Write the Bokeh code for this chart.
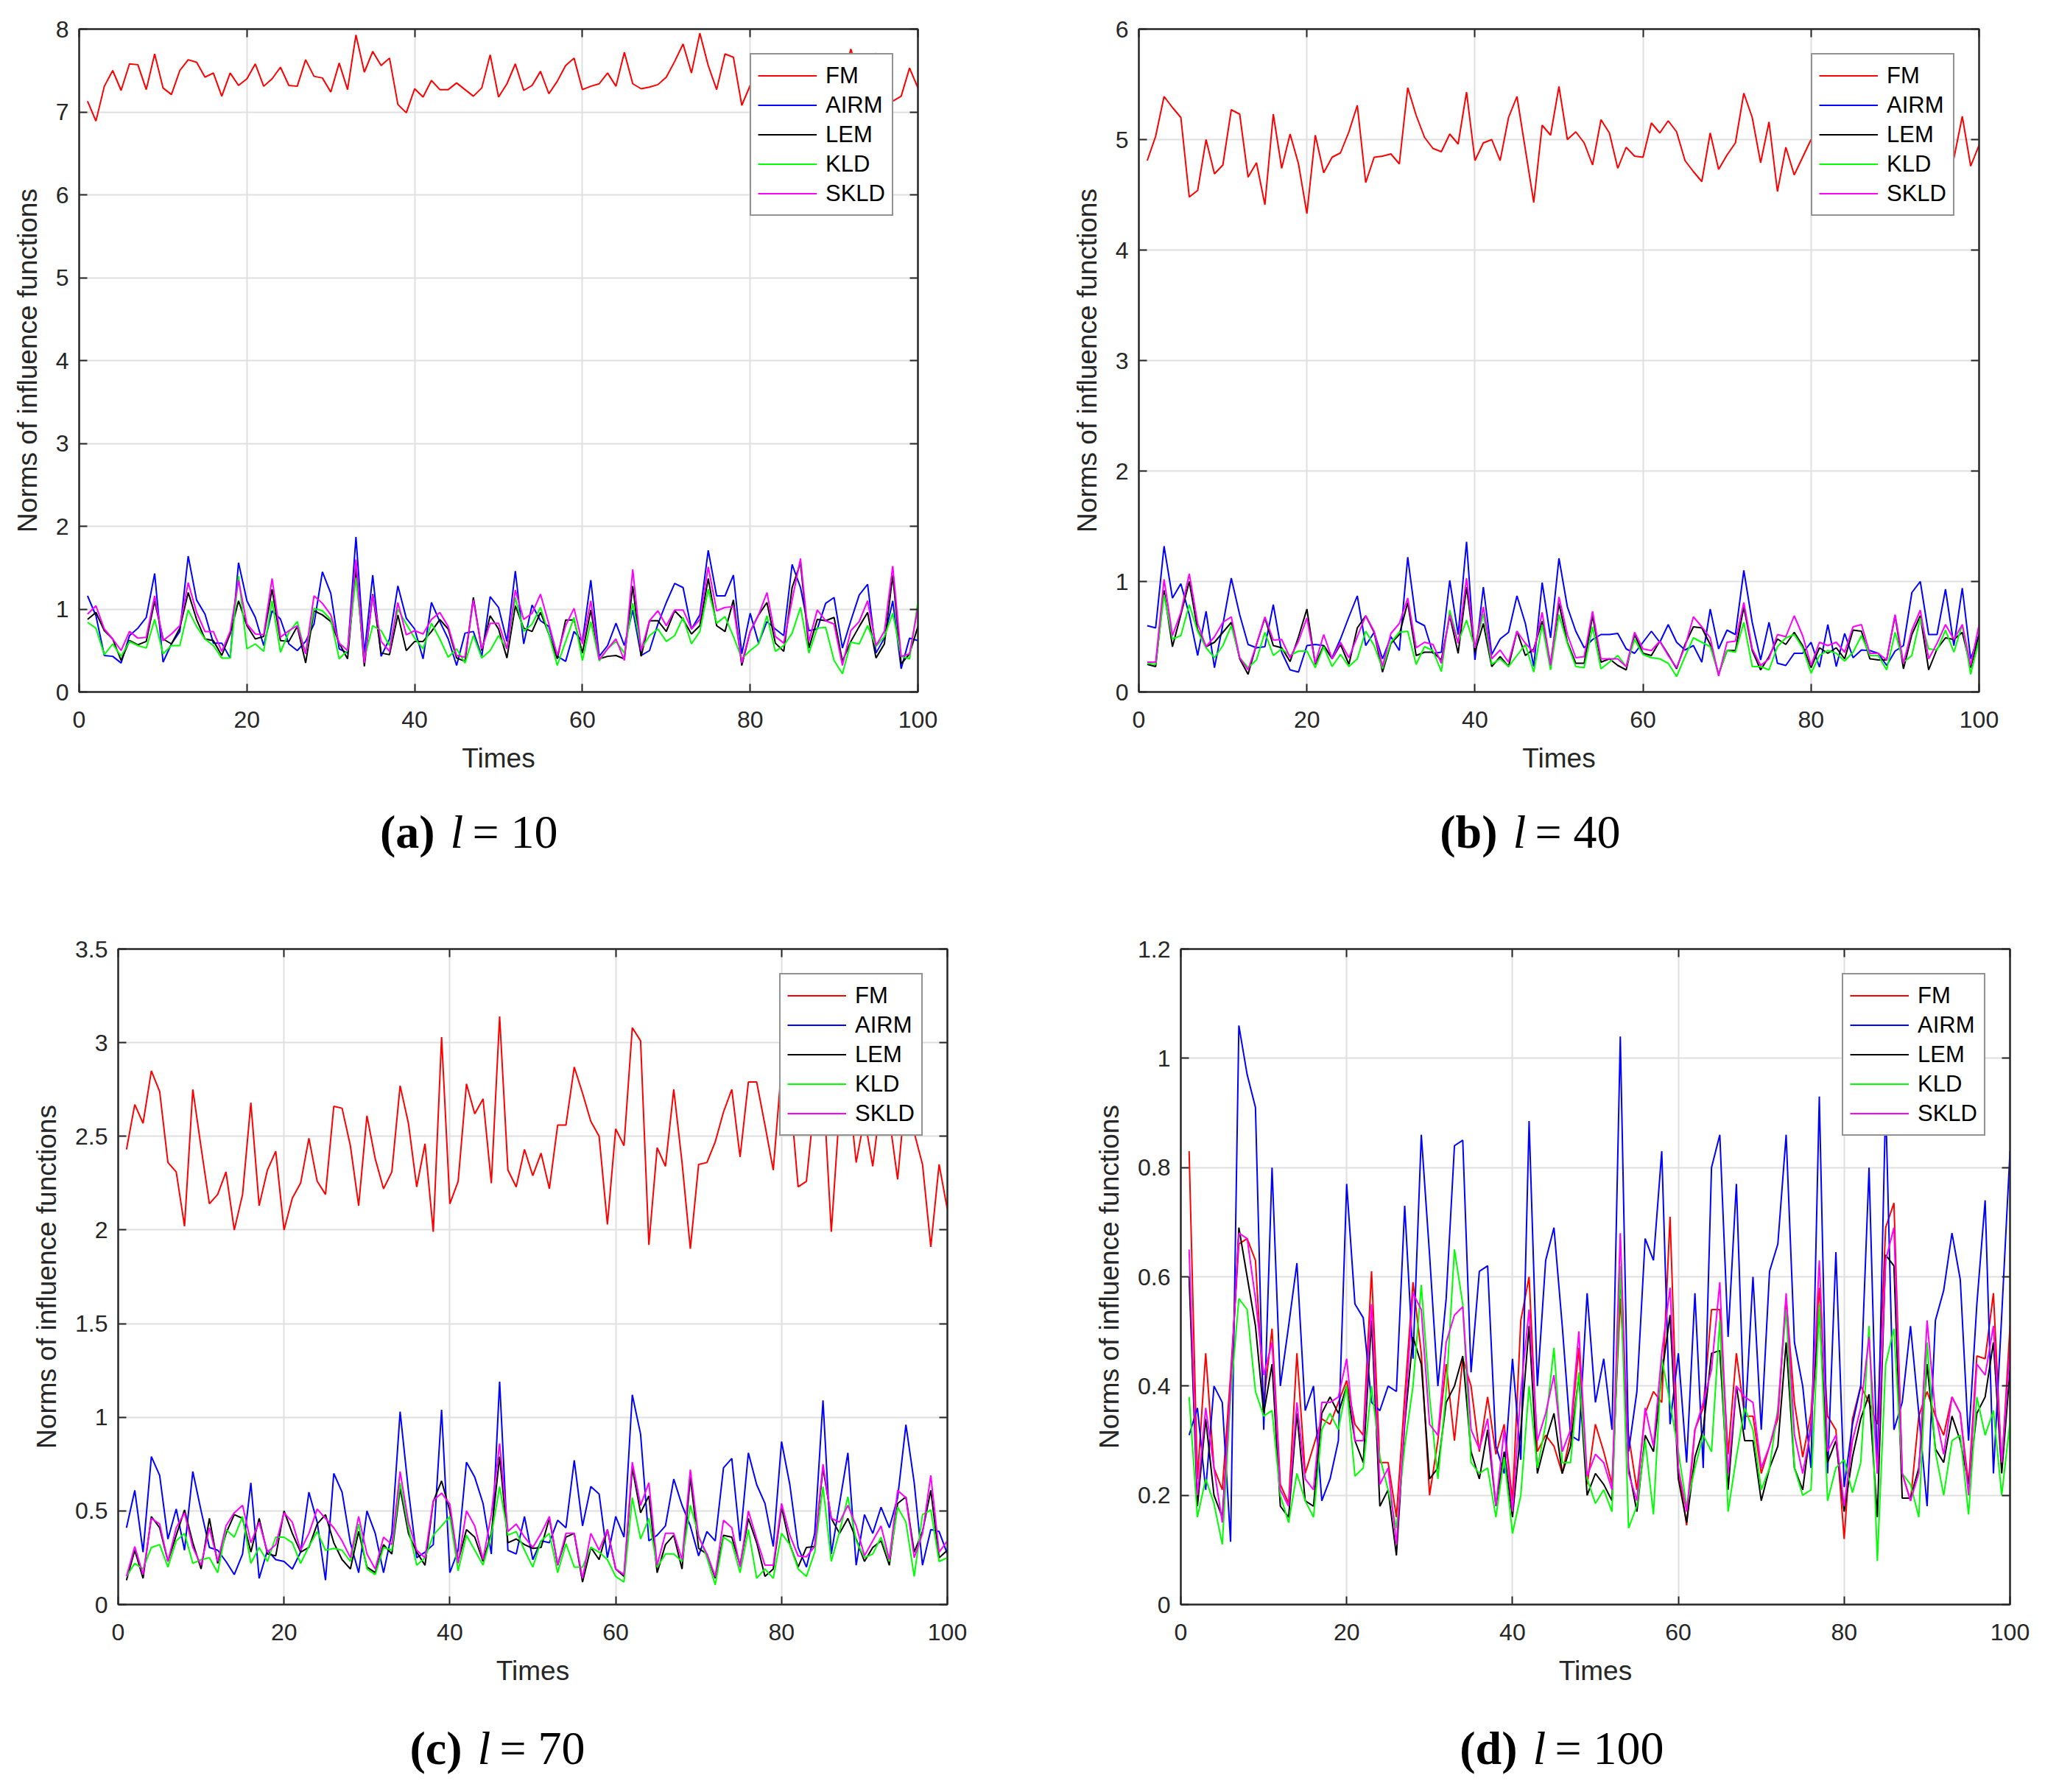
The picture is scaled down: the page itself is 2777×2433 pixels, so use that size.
from bokeh.plotting import figure
from bokeh.models import Range1d, LinearAxis, FixedTicker, Legend, LegendItem, CustomJSTickFormatter
from bokeh.layouts import row, column
from bokeh.core.properties import value
from bokeh.embed import file_html
from bokeh.resources import INLINE

# ---------------- data ----------------
TIMES = list(range(1, 101))
SERIES_NAMES = ["FM", "AIRM", "LEM", "KLD", "SKLD"]
SERIES_COLORS = ["#ff0000", "#0000ff", "#000000", "#00ff00", "#ff00ff"]
X_TICKS = [0, 20, 40, 60, 80, 100]
PANEL_LETTERS = ["a", "b", "c", "d"]
L_VALUES = [10, 40, 70, 100]
Y_MAX = [8, 6, 3.5, 1.2]
Y_TICKS_A = [0, 1, 2, 3, 4, 5, 6, 7, 8]
Y_TICKS_B = [0, 1, 2, 3, 4, 5, 6]
Y_TICKS_C = [0, 0.5, 1, 1.5, 2, 2.5, 3, 3.5]
Y_TICKS_D = [0, 0.2, 0.4, 0.6, 0.8, 1, 1.2]

# l = 10
FM_L10 = [7.13, 6.89, 7.31, 7.50, 7.26, 7.58, 7.57, 7.27, 7.70, 7.29,
          7.21, 7.50, 7.63, 7.60, 7.42, 7.47, 7.19, 7.47, 7.32, 7.40,
          7.58, 7.31, 7.40, 7.54, 7.32, 7.31, 7.63, 7.43, 7.41, 7.24,
          7.59, 7.27, 7.93, 7.48, 7.73, 7.56, 7.65, 7.09, 6.99, 7.28,
          7.18, 7.38, 7.27, 7.27, 7.35, 7.27, 7.19, 7.29, 7.69, 7.18,
          7.34, 7.58, 7.26, 7.32, 7.49, 7.22, 7.37, 7.56, 7.65, 7.27,
          7.31, 7.34, 7.47, 7.31, 7.72, 7.34, 7.28, 7.30, 7.33, 7.42,
          7.61, 7.82, 7.47, 7.95, 7.56, 7.27, 7.70, 7.66, 7.08, 7.32,
          7.35, 7.50, 7.30, 7.60, 7.40, 7.25, 7.55, 7.45, 7.30, 7.50,
          7.35, 7.76, 7.40, 7.50, 7.71, 7.30, 7.13, 7.19, 7.53, 7.29]
AIRM_L10 = [1.16, 0.92, 0.44, 0.43, 0.35, 0.68, 0.77, 0.90, 1.43, 0.36,
            0.58, 0.73, 1.64, 1.11, 0.94, 0.59, 0.59, 0.41, 1.56, 1.10,
            0.90, 0.56, 0.98, 0.88, 0.58, 0.50, 0.61, 0.82, 1.45, 1.19,
            0.52, 0.47, 1.87, 0.46, 1.41, 0.43, 0.64, 1.28, 0.89, 0.76,
            0.40, 1.08, 0.85, 0.64, 0.32, 0.71, 0.73, 0.43, 1.15, 1.02,
            0.61, 1.46, 0.58, 1.05, 0.86, 0.79, 0.43, 0.37, 0.73, 0.61,
            1.35, 0.43, 0.56, 0.83, 0.56, 0.99, 0.44, 0.50, 0.82, 1.08,
            1.31, 1.26, 0.76, 0.93, 1.71, 1.16, 1.16, 1.41, 0.46, 0.95,
            0.59, 0.85, 0.76, 0.68, 1.54, 1.26, 0.74, 0.76, 1.07, 1.14,
            0.53, 0.86, 1.17, 1.30, 0.47, 0.65, 1.10, 0.28, 0.65, 0.62]
LEM_L10 = [0.875, 0.96, 0.74, 0.64, 0.38, 0.62, 0.57, 0.61, 1.10, 0.64,
           0.58, 0.77, 1.20, 0.875, 0.64, 0.62, 0.44, 0.70, 1.10, 0.80,
           0.64, 0.67, 1.24, 0.62, 0.61, 0.79, 0.35, 0.98, 0.93, 0.85,
           0.59, 0.40, 1.49, 0.31, 1.18, 0.47, 0.45, 0.93, 0.50, 0.61,
           0.61, 0.73, 0.875, 0.76, 0.41, 0.37, 1.14, 0.50, 0.92, 0.76,
           0.41, 1.04, 0.77, 0.73, 0.96, 0.70, 0.40, 0.87, 0.87, 0.47,
           0.99, 0.40, 0.43, 0.44, 0.40, 1.28, 0.43, 0.86, 0.86, 0.73,
           0.98, 0.875, 0.70, 0.80, 1.37, 0.80, 0.73, 1.11, 0.32, 0.73,
           0.93, 1.08, 0.59, 0.49, 1.26, 1.56, 0.53, 0.875, 0.86, 0.90,
           0.37, 0.61, 0.79, 0.96, 0.41, 0.58, 1.41, 0.34, 0.46, 0.79]
KLD_L10 = [0.84, 0.77, 0.45, 0.58, 0.43, 0.61, 0.56, 0.53, 0.875, 0.46,
           0.56, 0.56, 0.99, 0.79, 0.64, 0.56, 0.41, 0.41, 1.40, 0.52,
           0.58, 0.49, 1.10, 0.48, 0.72, 0.85, 0.46, 1.01, 0.98, 0.875,
           0.40, 0.50, 1.38, 0.40, 0.80, 0.74, 0.56, 1.00, 0.82, 0.65,
           0.52, 0.83, 0.64, 0.42, 0.52, 0.35, 0.68, 0.41, 0.50, 0.68,
           0.52, 1.14, 0.73, 0.82, 1.02, 0.70, 0.32, 0.61, 0.90, 0.38,
           0.85, 0.375, 0.52, 0.61, 0.47, 1.07, 0.52, 0.68, 0.76, 0.61,
           0.68, 0.90, 0.58, 0.73, 1.24, 0.83, 0.91, 0.67, 0.40, 0.50,
           0.58, 0.92, 0.49, 0.56, 0.71, 1.02, 0.47, 0.77, 0.78, 0.38,
           0.22, 0.60, 0.58, 0.80, 0.55, 0.67, 0.95, 0.43, 0.40, 1.09]
SKLD_L10 = [0.94, 1.04, 0.76, 0.64, 0.50, 0.73, 0.65, 0.66, 1.16, 0.62,
            0.70, 0.80, 1.32, 0.96, 0.73, 0.73, 0.49, 0.73, 1.35, 0.82,
            0.70, 0.69, 1.37, 0.66, 0.74, 0.80, 0.46, 1.16, 1.07, 0.93,
            0.59, 0.50, 1.60, 0.35, 1.17, 0.61, 0.49, 1.08, 0.69, 0.74,
            0.70, 0.875, 0.96, 0.79, 0.44, 0.42, 1.11, 0.52, 0.83, 0.83,
            0.52, 1.23, 0.875, 0.95, 1.18, 0.82, 0.44, 0.80, 1.01, 0.58,
            1.10, 0.39, 0.52, 0.64, 0.38, 1.48, 0.50, 0.86, 0.98, 0.80,
            0.99, 0.99, 0.76, 0.875, 1.51, 0.98, 1.02, 1.03, 0.35, 0.73,
            0.93, 1.20, 0.67, 0.59, 1.11, 1.61, 0.61, 0.99, 0.86, 0.82,
            0.32, 0.74, 0.85, 1.10, 0.56, 0.73, 1.52, 0.43, 0.46, 1.02]

# l = 40
FM_L40 = [4.81, 5.03, 5.39, 5.29, 5.20, 4.48, 4.54, 5.00, 4.69, 4.77,
          5.27, 5.23, 4.66, 4.79, 4.41, 5.23, 4.74, 5.05, 4.78, 4.33,
          5.04, 4.70, 4.84, 4.88, 5.07, 5.31, 4.61, 4.84, 4.85, 4.87,
          4.78, 5.47, 5.22, 5.02, 4.92, 4.89, 5.05, 4.96, 5.43, 4.81,
          4.97, 5.00, 4.81, 5.20, 5.39, 4.91, 4.43, 5.13, 5.04, 5.48,
          5.00, 5.07, 4.97, 4.77, 5.18, 5.06, 4.74, 4.93, 4.85, 4.84,
          5.15, 5.06, 5.17, 5.07, 4.81, 4.71, 4.62, 5.06, 4.73, 4.86,
          4.97, 5.42, 5.20, 4.79, 5.16, 4.53, 4.93, 4.68, 4.84, 5.00,
          4.90, 5.10, 4.80, 5.20, 4.95, 4.70, 5.05, 5.30, 4.85, 5.00,
          4.75, 5.15, 4.90, 5.10, 4.80, 5.05, 4.83, 5.21, 4.76, 4.95]
AIRM_L40 = [0.60, 0.58, 1.32, 0.85, 0.98, 0.70, 0.33, 0.73, 0.22, 0.61,
            1.03, 0.70, 0.43, 0.40, 0.41, 0.79, 0.36, 0.20, 0.18, 0.42,
            0.43, 0.42, 0.31, 0.48, 0.68, 0.87, 0.42, 0.54, 0.30, 0.50,
            0.375, 1.22, 0.64, 0.60, 0.35, 0.36, 1.01, 0.52, 1.36, 0.29,
            0.95, 0.34, 0.48, 0.54, 0.87, 0.62, 0.23, 0.99, 0.49, 1.21,
            0.77, 0.55, 0.40, 0.475, 0.52, 0.52, 0.53, 0.39, 0.35, 0.45,
            0.55, 0.45, 0.61, 0.45, 0.38, 0.42, 0.27, 0.75, 0.39, 0.56,
            0.52, 1.10, 0.63, 0.29, 0.63, 0.26, 0.24, 0.35, 0.35, 0.45,
            0.225, 0.61, 0.23, 0.53, 0.31, 0.38, 0.375, 0.35, 0.24, 0.37,
            0.42, 0.90, 1.00, 0.52, 0.52, 0.93, 0.42, 0.94, 0.30, 0.52]
LEM_L40 = [0.25, 0.23, 0.92, 0.41, 0.70, 1.00, 0.56, 0.41, 0.45, 0.54,
           0.63, 0.30, 0.16, 0.43, 0.67, 0.42, 0.40, 0.275, 0.50, 0.75,
           0.25, 0.42, 0.30, 0.43, 0.25, 0.58, 0.69, 0.54, 0.18, 0.44,
           0.52, 0.81, 0.33, 0.36, 0.36, 0.29, 0.69, 0.35, 0.95, 0.36,
           0.62, 0.23, 0.32, 0.23, 0.55, 0.33, 0.39, 0.64, 0.25, 0.80,
           0.45, 0.26, 0.26, 0.69, 0.27, 0.30, 0.24, 0.20, 0.52, 0.35,
           0.33, 0.46, 0.34, 0.21, 0.43, 0.59, 0.58, 0.43, 0.16, 0.375,
           0.375, 0.77, 0.375, 0.20, 0.32, 0.48, 0.43, 0.54, 0.42, 0.22,
           0.40, 0.35, 0.40, 0.30, 0.56, 0.55, 0.30, 0.29, 0.29, 0.69,
           0.21, 0.52, 0.69, 0.20, 0.39, 0.49, 0.475, 0.54, 0.22, 0.52]
KLD_L40 = [0.26, 0.25, 0.88, 0.48, 0.51, 0.79, 0.55, 0.40, 0.31, 0.42,
           0.60, 0.31, 0.22, 0.29, 0.54, 0.33, 0.39, 0.33, 0.37, 0.37,
           0.22, 0.41, 0.23, 0.34, 0.23, 0.30, 0.55, 0.42, 0.21, 0.45,
           0.54, 0.55, 0.25, 0.41, 0.375, 0.185, 0.74, 0.45, 0.65, 0.40,
           0.71, 0.25, 0.30, 0.23, 0.33, 0.43, 0.18, 0.61, 0.20, 0.70,
           0.44, 0.23, 0.22, 0.59, 0.21, 0.27, 0.33, 0.23, 0.475, 0.34,
           0.31, 0.30, 0.26, 0.14, 0.32, 0.49, 0.45, 0.41, 0.16, 0.375,
           0.36, 0.63, 0.23, 0.23, 0.20, 0.41, 0.49, 0.52, 0.40, 0.17,
           0.33, 0.375, 0.35, 0.28, 0.36, 0.51, 0.33, 0.33, 0.20, 0.54,
           0.27, 0.33, 0.67, 0.39, 0.38, 0.56, 0.36, 0.61, 0.16, 0.475]
SKLD_L40 = [0.27, 0.27, 1.02, 0.51, 0.72, 1.07, 0.62, 0.41, 0.50, 0.63,
            0.68, 0.31, 0.20, 0.43, 0.68, 0.47, 0.475, 0.31, 0.46, 0.67,
            0.26, 0.52, 0.30, 0.45, 0.31, 0.50, 0.69, 0.55, 0.23, 0.53,
            0.62, 0.85, 0.40, 0.45, 0.43, 0.26, 0.70, 0.44, 1.03, 0.40,
            0.77, 0.30, 0.38, 0.27, 0.55, 0.44, 0.36, 0.72, 0.24, 0.86,
            0.52, 0.31, 0.32, 0.73, 0.30, 0.30, 0.30, 0.23, 0.54, 0.39,
            0.375, 0.46, 0.33, 0.22, 0.41, 0.68, 0.59, 0.49, 0.145, 0.45,
            0.46, 0.81, 0.39, 0.24, 0.30, 0.52, 0.50, 0.69, 0.51, 0.24,
            0.45, 0.42, 0.45, 0.36, 0.59, 0.61, 0.35, 0.35, 0.29, 0.70,
            0.26, 0.56, 0.74, 0.30, 0.44, 0.61, 0.475, 0.61, 0.24, 0.61]

# l = 70
FM_L70 = [2.43, 2.67, 2.57, 2.85, 2.74, 2.36, 2.31, 2.02, 2.75, 2.44,
          2.14, 2.19, 2.31, 2.00, 2.19, 2.68, 2.13, 2.32, 2.42, 2.00,
          2.17, 2.25, 2.49, 2.26, 2.19, 2.66, 2.65, 2.45, 2.13, 2.61,
          2.38, 2.22, 2.31, 2.77, 2.57, 2.23, 2.46, 1.99, 3.03, 2.14,
          2.26, 2.78, 2.62, 2.70, 2.25, 3.14, 2.32, 2.23, 2.43, 2.29,
          2.41, 2.22, 2.56, 2.56, 2.87, 2.73, 2.58, 2.50, 2.03, 2.54,
          2.45, 3.08, 3.01, 1.92, 2.44, 2.34, 2.75, 2.36, 1.90, 2.35,
          2.36, 2.47, 2.63, 2.75, 2.39, 2.79, 2.79, 2.56, 2.32, 2.87,
          2.75, 2.23, 2.26, 2.70, 2.80, 1.99, 2.65, 2.80, 2.36, 2.60,
          2.34, 2.70, 2.60, 2.27, 2.75, 2.52, 2.35, 1.91, 2.35, 2.11]
AIRM_L70 = [0.41, 0.61, 0.28, 0.79, 0.69, 0.35, 0.51, 0.29, 0.71, 0.50,
            0.305, 0.29, 0.23, 0.16, 0.27, 0.65, 0.14, 0.29, 0.24, 0.23,
            0.19, 0.28, 0.60, 0.44, 0.13, 0.70, 0.60, 0.33, 0.17, 0.50,
            0.38, 0.17, 0.38, 1.03, 0.61, 0.25, 0.28, 0.32, 1.04, 0.17,
            0.29, 0.76, 0.68, 0.54, 0.27, 1.19, 0.29, 0.27, 0.47, 0.24,
            0.34, 0.33, 0.45, 0.41, 0.77, 0.42, 0.63, 0.59, 0.25, 0.47,
            0.36, 1.12, 0.91, 0.34, 0.37, 0.42, 0.67, 0.53, 0.42, 0.26,
            0.39, 0.34, 0.73, 0.78, 0.34, 0.81, 0.64, 0.54, 0.31, 0.87,
            0.64, 0.305, 0.20, 0.38, 1.09, 0.27, 0.54, 0.81, 0.21, 0.48,
            0.38, 0.52, 0.41, 0.57, 0.96, 0.65, 0.21, 0.40, 0.39, 0.27]
LEM_L70 = [0.13, 0.29, 0.14, 0.47, 0.41, 0.23, 0.37, 0.505, 0.33, 0.19,
           0.46, 0.22, 0.38, 0.48, 0.46, 0.28, 0.46, 0.27, 0.26, 0.50,
           0.38, 0.28, 0.305, 0.43, 0.48, 0.33, 0.24, 0.19, 0.39, 0.20,
           0.17, 0.32, 0.27, 0.62, 0.38, 0.28, 0.21, 0.55, 0.66, 0.50,
           0.23, 0.40, 0.36, 0.23, 0.38, 0.79, 0.33, 0.35, 0.32, 0.30,
           0.305, 0.46, 0.21, 0.36, 0.38, 0.12, 0.305, 0.24, 0.40, 0.19,
           0.15, 0.73, 0.49, 0.58, 0.17, 0.32, 0.37, 0.19, 0.68, 0.30,
           0.27, 0.14, 0.37, 0.36, 0.21, 0.46, 0.33, 0.15, 0.19, 0.52,
           0.32, 0.20, 0.305, 0.31, 0.73, 0.46, 0.38, 0.46, 0.35, 0.23,
           0.305, 0.34, 0.21, 0.54, 0.575, 0.28, 0.39, 0.61, 0.25, 0.29]
KLD_L70 = [0.15, 0.22, 0.19, 0.305, 0.32, 0.20, 0.34, 0.38, 0.22, 0.24,
           0.25, 0.17, 0.40, 0.36, 0.47, 0.22, 0.305, 0.23, 0.36, 0.36,
           0.33, 0.22, 0.31, 0.39, 0.29, 0.30, 0.29, 0.23, 0.43, 0.19,
           0.16, 0.305, 0.29, 0.65, 0.41, 0.21, 0.25, 0.37, 0.42, 0.47,
           0.18, 0.37, 0.29, 0.21, 0.37, 0.63, 0.37, 0.39, 0.29, 0.20,
           0.34, 0.38, 0.17, 0.325, 0.20, 0.20, 0.305, 0.28, 0.24, 0.15,
           0.12, 0.57, 0.35, 0.46, 0.20, 0.27, 0.27, 0.23, 0.53, 0.37,
           0.25, 0.105, 0.36, 0.33, 0.17, 0.40, 0.14, 0.19, 0.14, 0.38,
           0.32, 0.19, 0.15, 0.28, 0.63, 0.23, 0.39, 0.575, 0.34, 0.25,
           0.27, 0.36, 0.23, 0.52, 0.44, 0.15, 0.48, 0.505, 0.23, 0.25]
SKLD_L70 = [0.15, 0.31, 0.16, 0.46, 0.43, 0.23, 0.41, 0.49, 0.305, 0.21,
            0.41, 0.23, 0.42, 0.49, 0.53, 0.33, 0.44, 0.28, 0.32, 0.49,
            0.44, 0.29, 0.38, 0.51, 0.46, 0.41, 0.34, 0.25, 0.47, 0.27,
            0.19, 0.36, 0.32, 0.71, 0.44, 0.29, 0.25, 0.555, 0.595, 0.535,
            0.22, 0.50, 0.42, 0.24, 0.48, 0.86, 0.39, 0.43, 0.36, 0.305,
            0.38, 0.47, 0.21, 0.38, 0.38, 0.14, 0.38, 0.29, 0.40, 0.19,
            0.16, 0.76, 0.53, 0.65, 0.21, 0.38, 0.38, 0.24, 0.72, 0.36,
            0.27, 0.15, 0.45, 0.41, 0.20, 0.50, 0.35, 0.21, 0.21, 0.54,
            0.37, 0.26, 0.255, 0.31, 0.75, 0.46, 0.44, 0.53, 0.42, 0.26,
            0.34, 0.42, 0.24, 0.61, 0.57, 0.25, 0.38, 0.69, 0.28, 0.34]

# l = 100
FM_L100 = [0.83, 0.23, 0.46, 0.25, 0.21, 0.42, 0.66, 0.67, 0.63, 0.37,
           0.505, 0.22, 0.185, 0.46, 0.24, 0.29, 0.34, 0.33, 0.37, 0.41,
           0.33, 0.31, 0.61, 0.26, 0.26, 0.16, 0.38, 0.59, 0.46, 0.20,
           0.30, 0.44, 0.30, 0.45, 0.40, 0.28, 0.38, 0.275, 0.33, 0.19,
           0.52, 0.60, 0.28, 0.31, 0.29, 0.24, 0.31, 0.47, 0.22, 0.33,
           0.28, 0.22, 0.56, 0.31, 0.21, 0.35, 0.39, 0.37, 0.71, 0.25,
           0.145, 0.32, 0.36, 0.54, 0.54, 0.275, 0.46, 0.345, 0.345, 0.24,
           0.29, 0.34, 0.56, 0.37, 0.27, 0.35, 0.58, 0.345, 0.32, 0.12,
           0.34, 0.40, 0.37, 0.33, 0.69, 0.735, 0.24, 0.19, 0.345, 0.39,
           0.345, 0.31, 0.38, 0.35, 0.22, 0.455, 0.45, 0.57, 0.25, 0.51]
AIRM_L100 = [0.31, 0.36, 0.21, 0.40, 0.37, 0.115, 1.06, 0.97, 0.91, 0.32,
             0.80, 0.40, 0.51, 0.625, 0.355, 0.40, 0.19, 0.23, 0.30, 0.77,
             0.55, 0.525, 0.37, 0.355, 0.40, 0.39, 0.73, 0.45, 0.86, 0.64,
             0.40, 0.56, 0.84, 0.85, 0.425, 0.61, 0.62, 0.29, 0.24, 0.45,
             0.265, 0.885, 0.40, 0.63, 0.69, 0.51, 0.31, 0.30, 0.57, 0.37,
             0.45, 0.32, 1.04, 0.28, 0.39, 0.67, 0.63, 0.83, 0.33, 0.46,
             0.26, 0.57, 0.25, 0.80, 0.86, 0.49, 0.77, 0.32, 0.60, 0.32,
             0.61, 0.66, 0.86, 0.48, 0.40, 0.25, 0.93, 0.24, 0.645, 0.215,
             0.33, 0.40, 0.80, 0.24, 0.92, 0.32, 0.37, 0.51, 0.35, 0.18,
             0.52, 0.575, 0.68, 0.595, 0.30, 0.55, 0.74, 0.24, 0.53, 0.83]
LEM_L100 = [0.60, 0.18, 0.34, 0.20, 0.16, 0.39, 0.69, 0.60, 0.51, 0.35,
            0.44, 0.18, 0.16, 0.35, 0.19, 0.18, 0.35, 0.38, 0.35, 0.40,
            0.30, 0.26, 0.52, 0.18, 0.21, 0.09, 0.33, 0.49, 0.44, 0.23,
            0.25, 0.37, 0.40, 0.455, 0.28, 0.23, 0.32, 0.18, 0.28, 0.16,
            0.32, 0.51, 0.24, 0.30, 0.35, 0.24, 0.29, 0.42, 0.20, 0.24,
            0.22, 0.19, 0.61, 0.25, 0.17, 0.31, 0.28, 0.42, 0.53, 0.23,
            0.15, 0.27, 0.32, 0.46, 0.465, 0.21, 0.40, 0.30, 0.30, 0.19,
            0.25, 0.29, 0.48, 0.25, 0.21, 0.33, 0.54, 0.26, 0.30, 0.17,
            0.27, 0.34, 0.385, 0.16, 0.64, 0.62, 0.195, 0.195, 0.25, 0.44,
            0.285, 0.26, 0.345, 0.30, 0.22, 0.35, 0.38, 0.48, 0.24, 0.43]
KLD_L100 = [0.38, 0.16, 0.23, 0.185, 0.11, 0.38, 0.56, 0.54, 0.39, 0.345,
            0.355, 0.20, 0.15, 0.24, 0.19, 0.16, 0.32, 0.35, 0.32, 0.40,
            0.235, 0.25, 0.40, 0.27, 0.21, 0.14, 0.29, 0.40, 0.585, 0.38,
            0.23, 0.39, 0.65, 0.55, 0.26, 0.24, 0.25, 0.16, 0.27, 0.13,
            0.20, 0.40, 0.25, 0.33, 0.47, 0.26, 0.26, 0.425, 0.23, 0.185,
            0.21, 0.17, 0.62, 0.14, 0.18, 0.30, 0.165, 0.45, 0.37, 0.28,
            0.18, 0.25, 0.31, 0.28, 0.52, 0.17, 0.27, 0.36, 0.32, 0.21,
            0.25, 0.36, 0.54, 0.25, 0.20, 0.21, 0.55, 0.19, 0.25, 0.265,
            0.205, 0.26, 0.51, 0.08, 0.44, 0.505, 0.24, 0.22, 0.16, 0.48,
            0.28, 0.20, 0.30, 0.31, 0.165, 0.38, 0.31, 0.355, 0.20, 0.335]
SKLD_L100 = [0.65, 0.20, 0.36, 0.25, 0.15, 0.40, 0.68, 0.67, 0.56, 0.42,
             0.48, 0.21, 0.18, 0.37, 0.23, 0.21, 0.37, 0.37, 0.38, 0.45,
             0.30, 0.30, 0.55, 0.22, 0.25, 0.11, 0.34, 0.57, 0.54, 0.33,
             0.31, 0.48, 0.53, 0.545, 0.32, 0.285, 0.34, 0.18, 0.32, 0.17,
             0.39, 0.54, 0.30, 0.35, 0.42, 0.28, 0.32, 0.50, 0.235, 0.275,
             0.26, 0.21, 0.68, 0.24, 0.19, 0.36, 0.29, 0.46, 0.58, 0.25,
             0.17, 0.32, 0.37, 0.43, 0.59, 0.24, 0.40, 0.38, 0.37, 0.25,
             0.29, 0.35, 0.57, 0.31, 0.24, 0.32, 0.63, 0.28, 0.31, 0.18,
             0.30, 0.36, 0.49, 0.24, 0.63, 0.69, 0.24, 0.19, 0.24, 0.52,
             0.35, 0.275, 0.38, 0.35, 0.20, 0.44, 0.42, 0.51, 0.26, 0.47]

PANEL_SERIES = [
    [FM_L10, AIRM_L10, LEM_L10, KLD_L10, SKLD_L10],
    [FM_L40, AIRM_L40, LEM_L40, KLD_L40, SKLD_L40],
    [FM_L70, AIRM_L70, LEM_L70, KLD_L70, SKLD_L70],
    [FM_L100, AIRM_L100, LEM_L100, KLD_L100, SKLD_L100],
]
PANEL_YTICKS = [Y_TICKS_A, Y_TICKS_B, Y_TICKS_C, Y_TICKS_D]

# ---------------- styling ----------------
SANS = "Liberation Sans"
SERIF = "Liberation Serif"
AXC = "#262626"
GRIDC = "#dfdfdf"


def style_axis(ax, labels=True):
    ax.major_tick_in = 11
    ax.major_tick_out = 0
    ax.minor_tick_line_color = None
    ax.axis_line_color = AXC
    ax.axis_line_width = 2
    ax.major_tick_line_color = AXC
    ax.major_tick_line_width = 2
    ax.major_label_text_font = SANS
    if labels:
        ax.major_label_text_color = AXC
        ax.major_label_text_font_size = "32px"
    else:
        # tick marks only (box-style axes), labels not drawn
        ax.major_label_text_color = None
        ax.major_label_text_font_size = "2px"
        ax.major_label_standoff = 0
    ax.axis_label_text_font = SANS
    ax.axis_label_text_font_size = "37px"
    ax.axis_label_text_font_style = "normal"
    ax.axis_label_text_color = AXC


def make_panel(idx, width, height, bl, br, bt, bb):
    yticks = PANEL_YTICKS[idx]
    p = figure(width=width, height=height, title=None,
               x_range=Range1d(0, 100), y_range=Range1d(0, Y_MAX[idx]),
               output_backend="svg", toolbar_location=None,
               min_border_left=bl, min_border_right=br,
               min_border_top=bt, min_border_bottom=bb)
    p.background_fill_color = "white"
    p.border_fill_color = "white"
    p.outline_line_color = AXC
    p.outline_line_width = 2

    xt = FixedTicker(ticks=X_TICKS)
    yt = FixedTicker(ticks=yticks)
    fmt = CustomJSTickFormatter(code="return String(Math.round(tick * 1000) / 1000);")

    p.xaxis.ticker = xt
    p.yaxis.ticker = yt
    p.xaxis.formatter = fmt
    p.yaxis.formatter = fmt
    p.xaxis.axis_label = "Times"
    p.yaxis.axis_label = "Norms of influence functions"
    for ax in p.xaxis:
        style_axis(ax)
        ax.major_label_standoff = 26
        ax.axis_label_standoff = 18
    for ax in p.yaxis:
        style_axis(ax)
        ax.major_label_standoff = 14
        ax.axis_label_standoff = 15

    top = LinearAxis(ticker=xt)
    style_axis(top, labels=False)
    p.add_layout(top, "above")
    right = LinearAxis(ticker=yt)
    style_axis(right, labels=False)
    p.add_layout(right, "right")

    p.xgrid.ticker = xt
    p.ygrid.ticker = yt
    p.grid.grid_line_color = GRIDC
    p.grid.grid_line_width = 2

    items = []
    for name, color, vals in zip(SERIES_NAMES, SERIES_COLORS, PANEL_SERIES[idx]):
        r = p.line(TIMES, vals, line_color=color, line_width=2)
        items.append(LegendItem(label=name, renderers=[r]))

    leg = Legend(items=items, location="top_right", margin=33)
    leg.label_text_font = SANS
    leg.label_text_font_size = "31px"
    leg.label_text_color = "#000000"
    leg.glyph_width = 80
    leg.glyph_height = 39
    leg.label_height = 39
    leg.spacing = 1
    leg.padding = 9
    leg.label_standoff = 12
    leg.border_line_color = AXC
    leg.border_line_width = 2
    leg.background_fill_color = "white"
    leg.background_fill_alpha = 1.0
    p.add_layout(leg)
    return p


def make_caption(idx, width, height, lx, mid_y):
    c = figure(width=width, height=height, title=None,
               x_range=Range1d(0, width), y_range=Range1d(0, height),
               x_axis_type=None, y_axis_type=None,
               output_backend="svg", toolbar_location=None, min_border=0)
    c.grid.visible = False
    c.outline_line_color = None
    c.background_fill_color = "white"
    c.border_fill_color = "white"
    common = dict(text_font=value(SERIF), text_font_size="64px",
                  text_baseline="middle", text_color="#000000")
    c.text(x=[lx - 21], y=[mid_y], text=["(%s)" % PANEL_LETTERS[idx]],
           text_font_style="bold", text_align="right", **common)
    c.text(x=[lx], y=[mid_y], text=["l"],
           text_font_style="italic", text_align="left", **common)
    c.text(x=[lx + 30], y=[mid_y], text=["= %d" % L_VALUES[idx]],
           text_font_style="normal", text_align="left", **common)
    return c


pa = make_panel(0, 1308, 1079, 107, 62, 39, 140)
pb = make_panel(1, 1440, 1079, 238, 61, 39, 140)
ca = make_caption(0, 1308, 130, 611, 80)
cb = make_caption(1, 1440, 130, 746, 80)
pc = make_panel(2, 1318, 1109, 160, 32, 79, 140)
pd = make_panel(3, 1445, 1109, 285, 34, 79, 140)
cc = make_caption(2, 1318, 100, 648, 45)
cd = make_caption(3, 1445, 100, 763, 45)

layout = column(row(pa, pb), row(ca, cb), row(pc, pd), row(cc, cd))

open("out.html", "w").write(file_html(layout, INLINE))
